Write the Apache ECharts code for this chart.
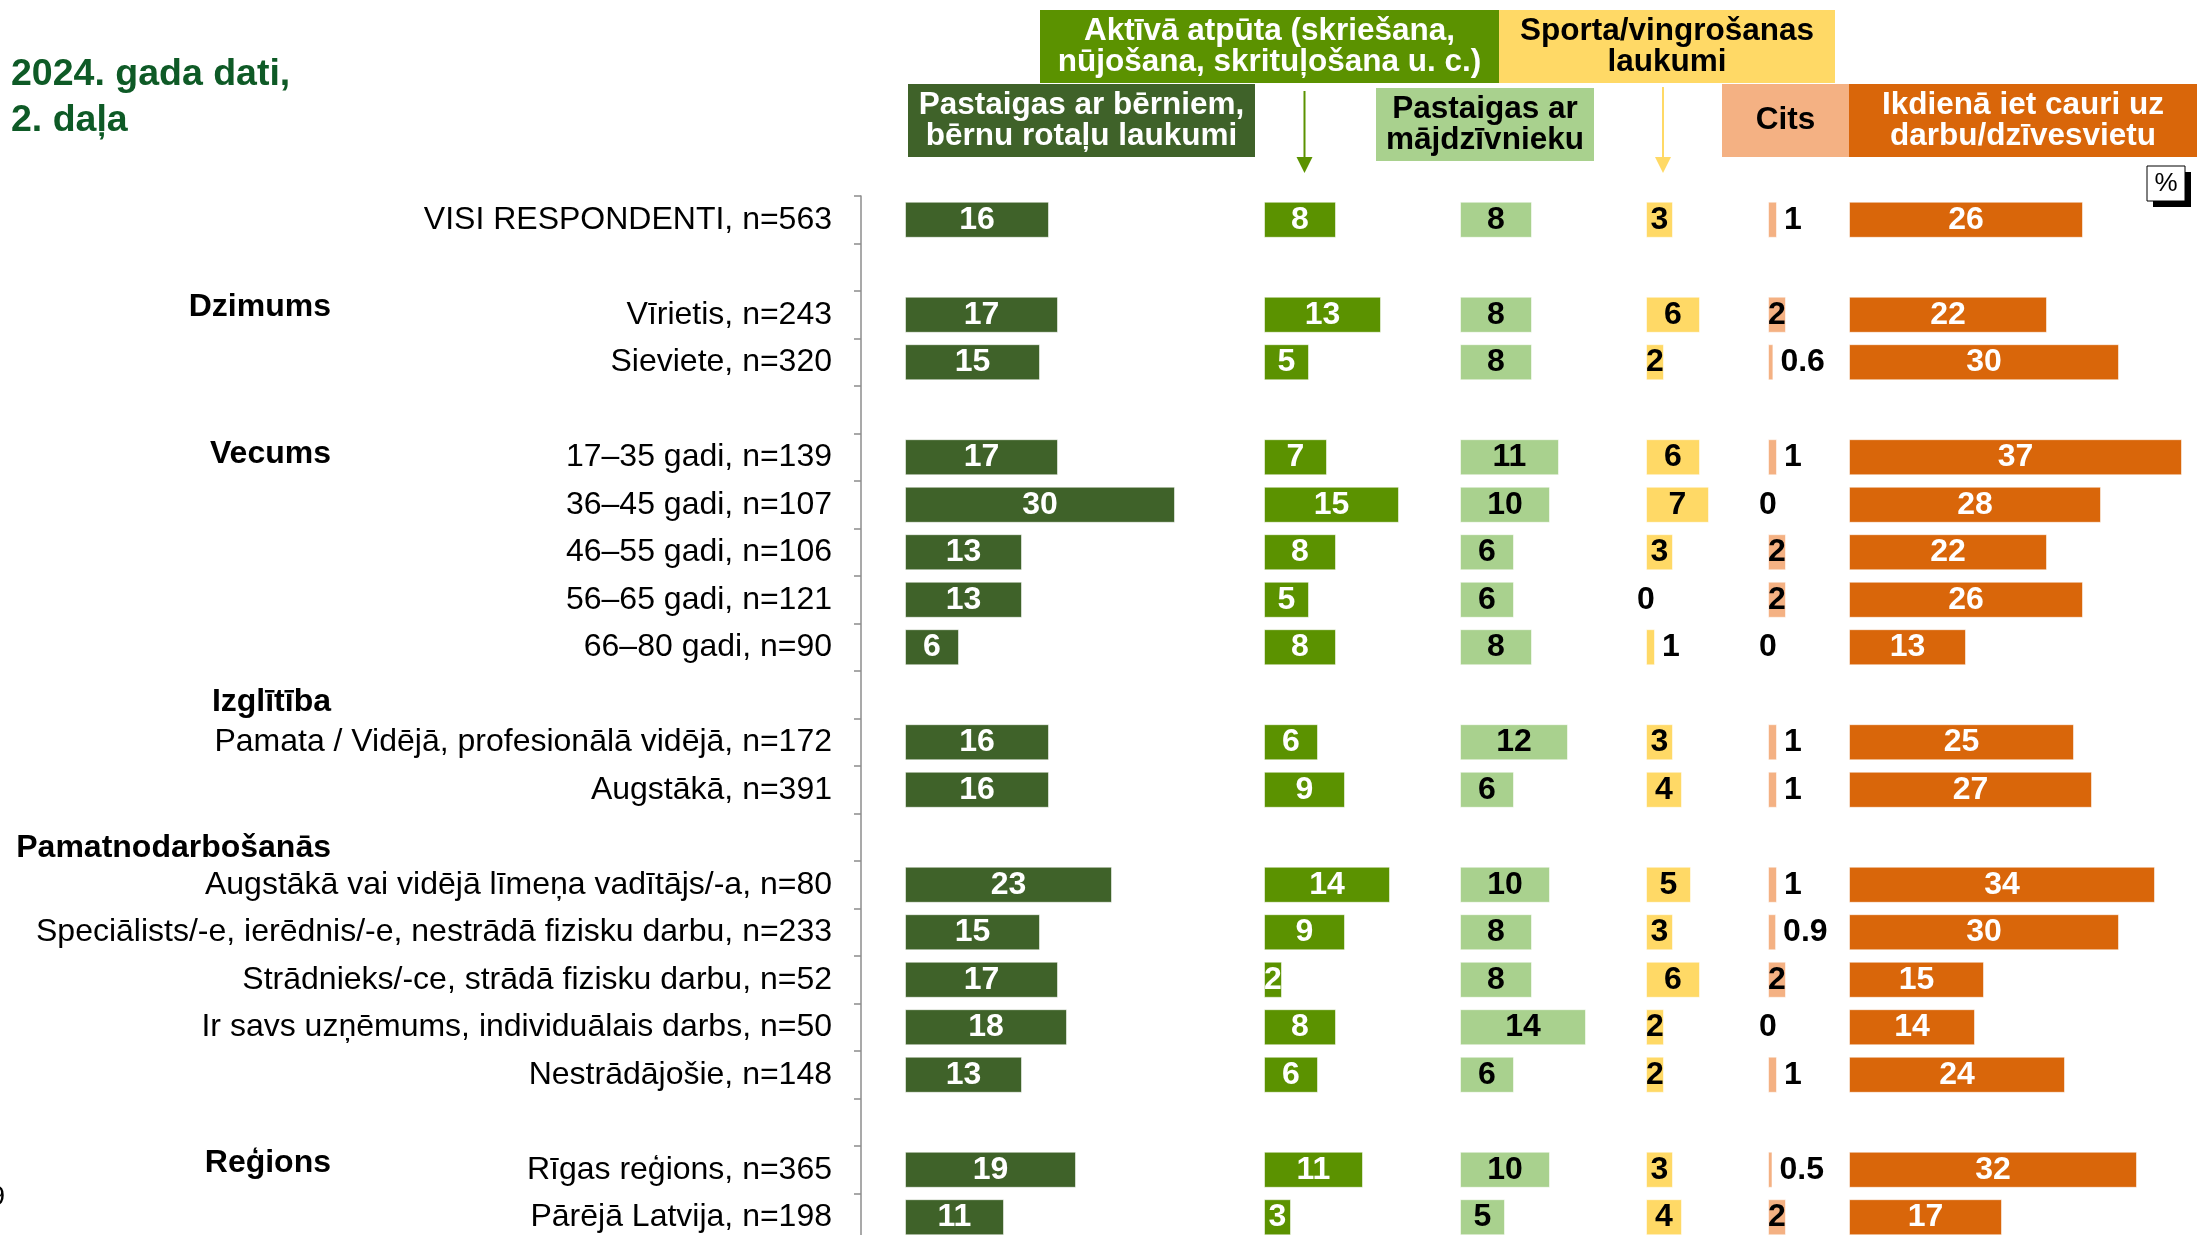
<!DOCTYPE html>
<html><head><meta charset="utf-8">
<script src="https://cdn.jsdelivr.net/npm/echarts@6/dist/echarts.min.js"></script>
<style>html,body{margin:0;padding:0;background:#fff;overflow:hidden}#c{width:2197px;height:1265px}</style>
</head><body><div id="c"></div>
<script>
const categories = ['VISI RESPONDENTI, n=563',' ','Vīrietis, n=243','Sieviete, n=320','  ','17–35 gadi, n=139','36–45 gadi, n=107','46–55 gadi, n=106','56–65 gadi, n=121','66–80 gadi, n=90','   ','Pamata / Vidējā, profesionālā vidējā, n=172','Augstākā, n=391','    ','Augstākā vai vidējā līmeņa vadītājs/-a, n=80','Speciālists/-e, ierēdnis/-e, nestrādā fizisku darbu, n=233','Strādnieks/-ce, strādā fizisku darbu, n=52','Ir savs uzņēmums, individuālais darbs, n=50','Nestrādājošie, n=148','     ','Rīgas reģions, n=365','Pārējā Latvija, n=198'];
const groupLabels = ['Dzimums','Vecums','Izglītība','Pamatnodarbošanās','Reģions'];
const seriesNames = ['Pastaigas ar bērniem,\nbērnu rotaļu laukumi','Aktīvā atpūta (skriešana,\nnūjošana, skrituļošana u. c.)','Pastaigas ar\nmājdzīvnieku','Sporta/vingrošanas\nlaukumi','Cits','Ikdienā iet cauri uz\ndarbu/dzīvesvietu'];
const berni   = [16,null,17,15,null,17,30,13,13,6,null,16,16,null,23,15,17,18,13,null,19,11];
const aktiva  = [8,null,13,5,null,7,15,8,5,8,null,6,9,null,14,9,2,8,6,null,11,3];
const majdz   = [8,null,8,8,null,11,10,6,6,8,null,12,6,null,10,8,8,14,6,null,10,5];
const sporta  = [3,null,6,2,null,6,7,3,0,1,null,3,4,null,5,3,6,2,2,null,3,4];
const cits    = [1,null,2,0.6,null,1,0,2,2,0,null,1,1,null,1,0.9,2,0,1,null,0.5,2];
const ikdiena = [26,null,22,30,null,37,28,22,26,13,null,25,27,null,34,30,15,14,24,null,32,17];

const FONT = 'Liberation Sans, Arial, sans-serif';
const allData = [berni, aktiva, majdz, sporta, cits, ikdiena];
const colors = ['#3F6229','#5B9200','#A9D18E','#FFD966','#F4B183','#D9660A'];
const labelColors = ['#fff','#fff','#000','#000','#000','#fff'];
const cols = [{left:905,max:35},{left:1264,max:20},{left:1460,max:18},{left:1646,max:10},{left:1768,max:8},{left:1849,max:38}];
const PX = 9.0;
const TOP = 196, H = 1045;

const grids = cols.map(c => ({left:c.left, top:TOP, width:c.max*PX, height:H, containLabel:false}));
const xAxes = cols.map((c,i) => ({type:'value', gridIndex:i, min:0, max:c.max, show:false}));
const yAxes = cols.map((c,i) => i===0 ? {
  type:'category', gridIndex:i, data:categories, inverse:true, offset:44,
  axisLine:{show:true, onZero:false, lineStyle:{color:'#8c8c8c', width:1.5}},
  axisTick:{show:true, length:7, lineStyle:{color:'#8c8c8c', width:1.5}},
  axisLabel:{interval:0, fontSize:32, color:'#000', fontFamily:FONT, margin:29},
  splitLine:{show:false}
} : {type:'category', gridIndex:i, data:categories, inverse:true, show:false});

const series = allData.map((arr,i) => ({
  type:'bar', name:seriesNames[i], xAxisIndex:i, yAxisIndex:i, barCategoryGap:'24%',
  itemStyle:{color:colors[i], borderColor:'rgba(255,255,255,0.55)', borderWidth:1},
  label:{show:true, fontSize:32, fontWeight:'bold', fontFamily:FONT, color:labelColors[i]},
  data: arr.map(v => v===null ? '-' : (v>0 && v<1.5 ? {value:v, label:{position:'right', distance:7, color:'#000'}} : {value:v, label:{position:'inside'}})),
  animation:false
}));

function txt(x,y,text,opt){
  return {type:'text', x:x, y:y, style:Object.assign({text:text, fontFamily:FONT, fill:'#000', textVerticalAlign:'middle'}, opt||{})};
}
function box(x,y,w,h,fill,text,tcolor){
  return [
    {type:'rect', shape:{x:x,y:y,width:w,height:h}, style:{fill:fill}},
    txt(x+w/2, y+h/2, text, {fill:tcolor, fontSize:31.5, fontWeight:'bold', textAlign:'center', lineHeight:31})
  ];
}
function arrow(x,y1,y2,color){
  return [
    {type:'line', shape:{x1:x,y1:y1,x2:x,y2:y2-14}, style:{stroke:color, lineWidth:2}},
    {type:'polygon', shape:{points:[[x-8,y2-16],[x+8,y2-16],[x,y2]]}, style:{fill:color}}
  ];
}
const groupY = [307, 454, 702, 848, 1163];
const graphic = [].concat(
  [txt(11, 75, '2024. gada dati,', {fontSize:37.5, fontWeight:'bold', fill:'#0E5A26'}),
   txt(11, 121, '2. daļa', {fontSize:37.5, fontWeight:'bold', fill:'#0E5A26'})],
  groupLabels.map((g,i) => txt(331, groupY[i], g, {fontSize:32, fontWeight:'bold', textAlign:'right'})),
  box(1040,10,459,73,colors[1],seriesNames[1],'#fff'),
  box(1499,10,336,73,colors[3],seriesNames[3],'#000'),
  box(908,84,347,73,colors[0],seriesNames[0],'#fff'),
  box(1376,88,218,73,colors[2],seriesNames[2],'#000'),
  box(1722,84,127,73,colors[4],seriesNames[4],'#000'),
  box(1849,84,348,73,colors[5],seriesNames[5],'#fff'),
  arrow(1304.5, 91, 173, colors[1]),
  arrow(1663, 87, 173, colors[3]),
  [{type:'rect', shape:{x:2153,y:172,width:38,height:35}, style:{fill:'#000'}},
   {type:'rect', shape:{x:2147,y:166,width:38,height:35}, style:{fill:'#fff', stroke:'#000', lineWidth:1}},
   txt(2166, 184, '%', {fontSize:26, textAlign:'center'}),
   txt(5, 1197, '9', {fontSize:28, textAlign:'right'})]
);

const chart = echarts.init(document.getElementById('c'), null, {renderer:'canvas'});
chart.setOption({
  animation:false,
  backgroundColor:'#fff',
  grid:grids, xAxis:xAxes, yAxis:yAxes, series:series, graphic:graphic
});
</script></body></html>
